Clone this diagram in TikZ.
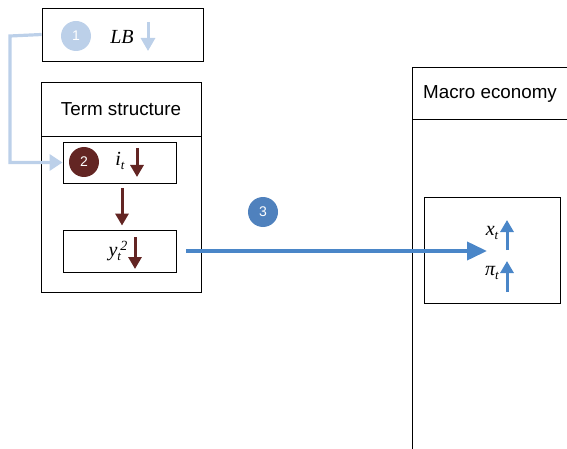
\documentclass[tikz,border=0pt]{standalone}
\usepackage{fontspec}
\setmainfont{Liberation Sans}
\newfontfamily\tnr{Liberation Serif}
\usetikzlibrary{arrows.meta,calc}
\definecolor{dred}{HTML}{632523}
\definecolor{mblue}{HTML}{4A86C8}
\definecolor{lblue}{HTML}{BCD0E9}
\definecolor{cblue}{HTML}{4F81BD}
\newcommand{\sbs}[1]{\raisebox{-0.4ex}{\fontsize{13}{13}\selectfont #1}}
\newcommand{\sps}[1]{\raisebox{0.75ex}{\fontsize{14}{14}\selectfont #1}}
\tikzset{
  box/.style={draw=black, line width=0.9pt, minimum width=#1, inner sep=0pt},
  num/.style={circle, fill=#1, text=white, minimum size=30pt, inner sep=0pt, font=\fontsize{14}{14}\selectfont},
  hdr/.style={font=\fontsize{18.8}{21}\selectfont},
  mth/.style={font=\fontsize{20}{22}\selectfont\tnr\itshape},
  redarr/.style={draw=dred, line width=3pt, -{Triangle[length=12pt,width=13pt]}},
  bluearr/.style={draw=mblue, line width=3pt, -{Triangle[length=12pt,width=13pt]}},
}
\begin{document}
\begin{tikzpicture}[x=1pt,y=-1pt]
\useasboundingbox (0,0) rectangle (567,449);
% LB box
\node[box=161pt, minimum height=53pt] (lb) at (122.5,34.5) {};
\node[num=lblue] (n1) at (76,36) {1};
\node[mth] (lbt) at (122,37) {LB};
\coordinate (lba) at (148,22);
\coordinate (lbb) at (148,51);
\draw[draw=lblue, line width=3pt, -{Triangle[length=13pt,width=14pt]}] (lba) -- (lbb);
% Term structure
\node[box=160pt, minimum height=210pt] (ts) at (121,187) {};
\node[box=160pt, minimum height=54pt, hdr] (tsh) at (121,109) {Term structure};
\node[box=113pt, minimum height=41pt] (b2) at (119.5,162.5) {};
\node[num=dred] (n2) at (84,162) {2};
\node[mth] (it) at (120,161) {i\sbs{t}};
\coordinate (ia) at (137,148);
\coordinate (ib) at (137,177);
\draw[redarr] (ia) -- (ib);
\node[box=113pt, minimum height=42pt] (by) at (119.5,251) {};
\node[mth] (yt) at (118,251) {y\sbs{t}\kern-0.5pt\sps{2}};
\coordinate (ya) at (135,237);
\coordinate (yb) at (135,269);
\draw[redarr] (ya) -- (yb);
\coordinate (m1) at (122,183);
\draw[redarr, shorten <=5pt, shorten >=4pt] (m1) -- (m1 |- by.north);
% connector 1 -> 2
\coordinate (lk) at (10,36);
\draw[draw=lblue, line width=3.2pt, -{Triangle[length=13pt,width=16pt]}] (lb.west) -- (lk) |- (b2.west);
% circle 3
\node[num=cblue] (n3) at (263,212) {3};
% Macro economy
\node[box=170pt, minimum height=400pt, anchor=north west] (me) at (412,67) {};
\node[box=170pt, minimum height=52pt, anchor=north west] (meh) at (412,67) {};
\node[hdr] (meht) at (490,94) {Macro economy};
\node[box=136pt, minimum height=106pt] (mi) at (492,250) {};
\node[mth] (xt) at (492,233) {x\sbs{t}};
\node[mth] (pt) at (492,273) {π\sbs{t}};
\coordinate (xa) at (507,250);
\coordinate (xb) at (507,220);
\draw[bluearr] (xa) -- (xb);
\coordinate (pa) at (507,292);
\coordinate (pb) at (507,261);
\draw[bluearr] (pa) -- (pb);
% main blue arrow
\coordinate (tgt) at (487,251);
\draw[draw=mblue, line width=3.8pt, -{Triangle[length=20pt,width=18pt]}] ([xshift=10pt]by.east) -- (tgt);
\end{tikzpicture}
\end{document}
